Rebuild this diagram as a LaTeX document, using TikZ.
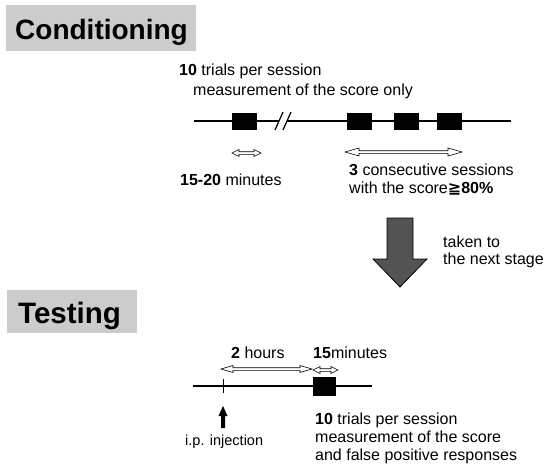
\documentclass[tikz,border=0pt]{standalone}
\usepackage{fontspec}
\setmainfont{Liberation Sans}
\newfontfamily\symfont{DejaVu Sans}
\usetikzlibrary{arrows.meta}
\newcommand{\hdbl}[5]{%
  \draw[hollow] (#1,#3) -- ({#1+#4},{#3-#5}) -- ({#1+#4},{#3-1.3}) -- ({#2-#4},{#3-1.3})
    -- ({#2-#4},{#3-#5}) -- (#2,#3) -- ({#2-#4},{#3+#5}) -- ({#2-#4},{#3+1.3})
    -- ({#1+#4},{#3+1.3}) -- ({#1+#4},{#3+#5}) -- cycle;}
\begin{document}
\begin{tikzpicture}[x=1pt,y=-1pt,
  lbl/.style={anchor=base west,inner sep=0pt,font=\fontsize{16}{19}\selectfont},
  small/.style={anchor=base west,inner sep=0pt,font=\fontsize{14.5}{17}\selectfont},
  title/.style={anchor=base west,inner sep=0pt,font=\fontsize{28}{32}\selectfont\bfseries},
  titlebox/.style={fill=gray!40,draw=none,anchor=north west,inner sep=0pt},
  sess/.style={fill=black,draw=black,inner sep=0pt},
  tl/.style={line width=1.3pt},
  hollow/.style={draw=black,line width=0.6pt,fill=white,line join=miter},
  bigarrow/.style={fill=gray!65!black,draw=black,line width=0.8pt,line join=miter},
]
\useasboundingbox (0,0) rectangle (548,463);

% ---------- Conditioning ----------
\node[titlebox,minimum width=190pt,minimum height=46pt] (condbox) at (6,5) {};
\node[title] (condtitle) at (15,39) {Conditioning};

\node[lbl] (c10) at (179,75) {\textbf{10} trials per session};
\node[lbl] (cmeas) at (193,95) {measurement of the score only};

\coordinate (cstart) at (194,121);
\coordinate (brk1) at (279,121);
\coordinate (brk2) at (287,121);
\coordinate (cend) at (511,121);
\node[sess,minimum width=24pt,minimum height=16pt] (s1) at (244,121) {};
\node[sess,minimum width=24pt,minimum height=16pt] (s2) at (359,121) {};
\node[sess,minimum width=24pt,minimum height=16pt] (s3) at (406,121) {};
\node[sess,minimum width=24pt,minimum height=16pt] (s4) at (449,121) {};
\draw[tl] (cstart) -- (s1.west);
\draw[tl] (s1.east) -- (brk1);
\draw[tl] (brk2) -- (s2.west);
\draw[tl] (s2.east) -- (s3.west);
\draw[tl] (s3.east) -- (s4.west);
\draw[tl] (s4.east) -- (cend);
\draw[line width=1.2pt] (275,130) -- (283,112);
\draw[line width=1.2pt] (283,130) -- (291,112);

\hdbl{232}{261}{153}{7}{3.5}
\hdbl{345}{462}{152}{14}{4}

\node[lbl] (c1520) at (180,185) {\textbf{15-20} minutes};
\node[lbl] (c3) at (349,175) {\textbf{3} consecutive sessions};
\node[lbl] (cscore) at (349,193) {with the score{\symfont\bfseries ≧}\textbf{80\%}};

% ---------- big arrow ----------
\draw[bigarrow] (387,218) -- (413,218) -- (413,259) -- (427,259) -- (400,287)
  -- (373,259) -- (387,259) -- cycle;
\node[lbl] (taken) at (443,247) {taken to};
\node[lbl] (next) at (443,264) {the next stage};

% ---------- Testing ----------
\node[titlebox,minimum width=130pt,minimum height=43pt] (testbox) at (7,290) {};
\node[title,font=\fontsize{29.5}{33}\selectfont\bfseries] (testtitle) at (18,323) {Testing};

\node[lbl] (t2h) at (231,358) {\textbf{2} hours};
\node[lbl] (t15) at (313,358) {\textbf{15}minutes};
\hdbl{221}{312}{369}{12}{3.5}
\hdbl{313}{338}{370}{7}{3.5}

\coordinate (tstart) at (193,386);
\coordinate (tend) at (372,386);
\coordinate (tick) at (223,386);
\node[sess,minimum width=22pt,minimum height=18pt] (ts) at (324,386) {};
\draw[tl] (tstart) -- (ts.west);
\draw[tl] (ts.east) -- (tend);
\draw[line width=1pt] (223,379) -- (223,393);

\fill (221,428) -- (225,428) -- (225,416) -- (227.5,416) -- (223,406)
  -- (218.5,416) -- (221,416) -- cycle;
\node[small] (inj) at (185,445) {i.p. injection};

\node[lbl] (t10) at (315,424) {\textbf{10} trials per session};
\node[lbl] (tmeas) at (315,442) {measurement of the score};
\node[lbl] (tfalse) at (315,460) {and false positive responses};
\end{tikzpicture}
\end{document}
